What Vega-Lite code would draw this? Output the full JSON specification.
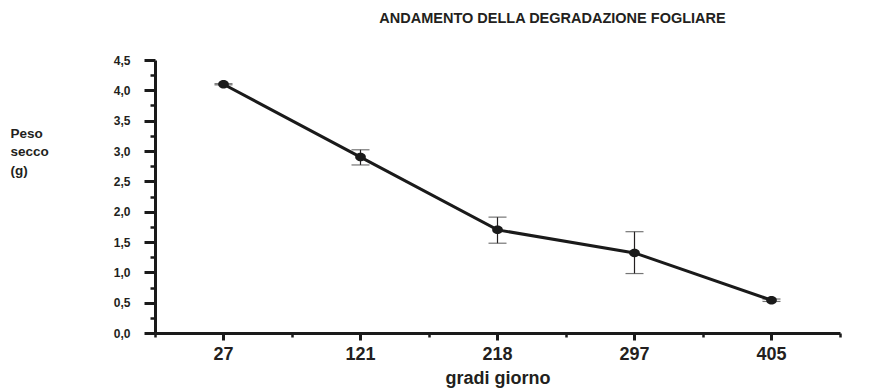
{
  "$schema": "https://vega.github.io/schema/vega-lite/v6.json",
  "autosize": {"type": "none"},
  "padding": {"left": 155, "top": 60, "right": 39, "bottom": 56},
  "width": 685,
  "height": 273,
  "background": "white",
  "title": {
    "text": "ANDAMENTO DELLA DEGRADAZIONE FOGLIARE",
    "anchor": "middle",
    "dx": 55,
    "offset": 28,
    "font": "Liberation Sans",
    "fontSize": 14.5,
    "fontWeight": "bold",
    "color": "#231f20"
  },
  "config": {
    "view": {"stroke": null},
    "axis": {
      "labelFont": "Liberation Sans",
      "labelFontSize": 12,
      "labelFontWeight": "bold",
      "labelColor": "#231f20",
      "titleFont": "Liberation Sans",
      "titleFontSize": 12,
      "titleFontWeight": "bold",
      "titleColor": "#231f20",
      "domainColor": "#1a1a1a",
      "tickColor": "#1a1a1a",
      "grid": false
    }
  },
  "data": {
    "values": [
      {"gradi": "27", "peso": 4.10, "low": 4.09, "high": 4.11},
      {"gradi": "121", "peso": 2.90, "low": 2.77, "high": 3.02},
      {"gradi": "218", "peso": 1.70, "low": 1.48, "high": 1.91},
      {"gradi": "297", "peso": 1.32, "low": 0.98, "high": 1.67},
      {"gradi": "405", "peso": 0.54, "low": 0.52, "high": 0.56}
    ]
  },
  "resolve": {"axis": {"x": "independent", "y": "independent"}},
  "layer": [
    {
      "mark": {"type": "rule", "color": "#231f20", "strokeWidth": 1.2},
      "encoding": {
        "x": {
          "field": "gradi", "type": "nominal", "sort": null,
          "scale": {"type": "band", "paddingInner": 0, "paddingOuter": 0},
          "axis": {
            "orient": "bottom", "tickBand": "extent", "labels": false,
            "domain": false, "title": null, "tickSize": 4, "tickWidth": 2.5
          }
        },
        "y": {
          "field": "low", "type": "quantitative",
          "scale": {"domain": [0, 4.5], "nice": false, "zero": true},
          "axis": {
            "orient": "left",
            "values": [0.25, 0.75, 1.25, 1.75, 2.25, 2.75, 3.25, 3.75, 4.25],
            "labels": false, "domain": false, "title": null,
            "tickSize": 5, "tickWidth": 2.5
          }
        },
        "y2": {"field": "high"}
      }
    },
    {
      "mark": {"type": "tick", "color": "#3a3a3a", "thickness": 1.2, "size": 18},
      "encoding": {
        "x": {"field": "gradi", "type": "nominal", "sort": null, "axis": null},
        "y": {"field": "low", "type": "quantitative", "axis": null}
      }
    },
    {
      "mark": {"type": "tick", "color": "#3a3a3a", "thickness": 1.2, "size": 18},
      "encoding": {
        "x": {"field": "gradi", "type": "nominal", "sort": null, "axis": null},
        "y": {"field": "high", "type": "quantitative", "axis": null}
      }
    },
    {
      "mark": {"type": "line", "color": "#1a1a1a", "strokeWidth": 3},
      "encoding": {
        "x": {
          "field": "gradi", "type": "nominal", "sort": null,
          "axis": {
            "orient": "bottom", "title": "gradi giorno", "labelAngle": 0,
            "labelFontSize": 18, "titleFontSize": 18,
            "domainWidth": 3, "tickWidth": 3, "tickSize": 7,
            "labelPadding": 5, "titlePadding": 6
          }
        },
        "y": {
          "field": "peso", "type": "quantitative",
          "axis": {
            "orient": "left",
            "values": [0, 0.5, 1, 1.5, 2, 2.5, 3, 3.5, 4, 4.5],
            "labelExpr": "replace(format(datum.value, '.1f'), '.', ',')",
            "domainWidth": 3, "tickWidth": 3, "tickSize": 11, "labelPadding": 14,
            "title": ["Peso", "secco", "(g)"],
            "titleFontSize": 13.5,
            "titleAngle": 0, "titleAlign": "left", "titleBaseline": "top",
            "titleX": -145, "titleY": 66, "titleLineHeight": 18.5
          }
        }
      }
    },
    {
      "mark": {"type": "point", "filled": true, "color": "#1a1a1a", "opacity": 1, "size": 80,
        "shape": "M-1.2,0A1.2,0.95 0 1,0 1.2,0A1.2,0.95 0 1,0 -1.2,0Z"},
      "encoding": {
        "x": {"field": "gradi", "type": "nominal", "sort": null, "axis": null},
        "y": {"field": "peso", "type": "quantitative", "axis": null}
      }
    }
  ]
}
